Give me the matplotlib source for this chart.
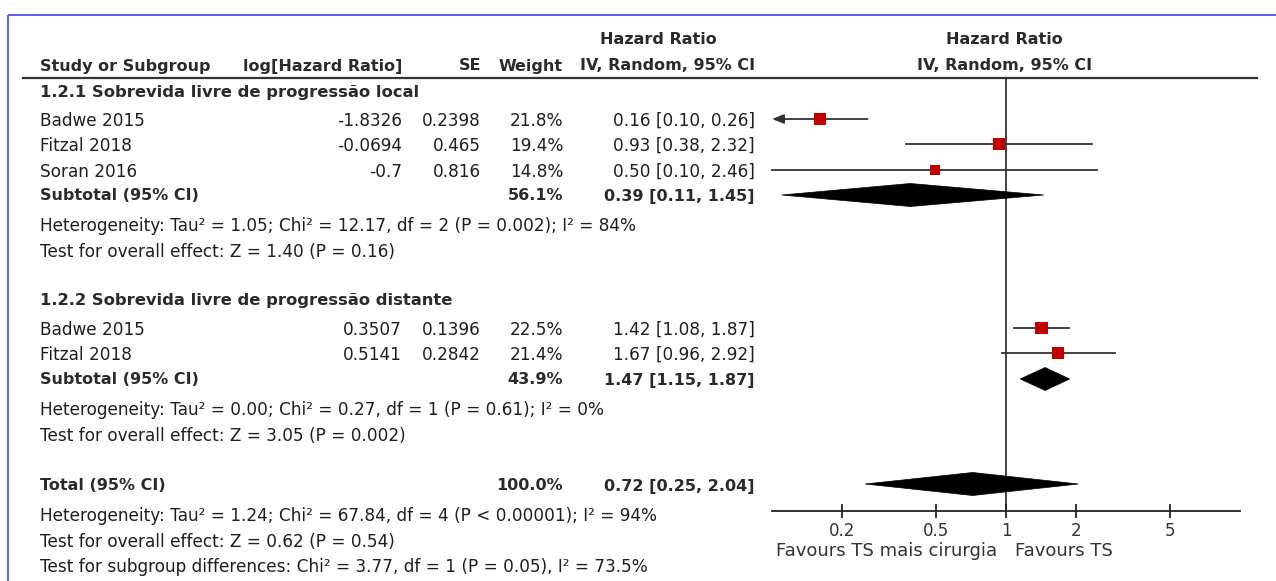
import numpy as np
import matplotlib
matplotlib.use("Agg")
import matplotlib.pyplot as plt
from matplotlib.patches import Polygon

# ---------------- data ----------------
group_titles = ["1.2.1 Sobrevida livre de progressão local",
                "1.2.2 Sobrevida livre de progressão distante"]
studies = [["Badwe 2015", "Fitzal 2018", "Soran 2016"],
           ["Badwe 2015", "Fitzal 2018"]]
log_hr = [[-1.8326, -0.0694, -0.7], [0.3507, 0.5141]]
log_hr_txt = [["-1.8326", "-0.0694", "-0.7"], ["0.3507", "0.5141"]]
se = [[0.2398, 0.465, 0.816], [0.1396, 0.2842]]
se_txt = [["0.2398", "0.465", "0.816"], ["0.1396", "0.2842"]]
weights = [[21.8, 19.4, 14.8], [22.5, 21.4]]
hr = [[0.16, 0.93, 0.50], [1.42, 1.67]]
hr_lo = [[0.10, 0.38, 0.10], [1.08, 0.96]]
hr_hi = [[0.26, 2.32, 2.46], [1.87, 2.92]]

sub_weight = [56.1, 43.9]
sub_hr = [0.39, 1.47]
sub_lo = [0.11, 1.15]
sub_hi = [1.45, 1.87]
sub_het = ["Heterogeneity: Tau² = 1.05; Chi² = 12.17, df = 2 (P = 0.002); I² = 84%",
           "Heterogeneity: Tau² = 0.00; Chi² = 0.27, df = 1 (P = 0.61); I² = 0%"]
sub_test = ["Test for overall effect: Z = 1.40 (P = 0.16)",
            "Test for overall effect: Z = 3.05 (P = 0.002)"]

tot_weight = 100.0
tot_hr = 0.72
tot_lo = 0.25
tot_hi = 2.04
tot_lines = ["Heterogeneity: Tau² = 1.24; Chi² = 67.84, df = 4 (P < 0.00001); I² = 94%",
             "Test for overall effect: Z = 0.62 (P = 0.54)",
             "Test for subgroup differences: Chi² = 3.77, df = 1 (P = 0.05), I² = 73.5%"]

x_ticks = [0.2, 0.5, 1, 2, 5]
x_tick_labels = ["0.2", "0.5", "1", "2", "5"]
fav_left = "Favours TS mais cirurgia"
fav_right = "Favours TS"

# ---------------- layout ----------------
W, H = 1276, 581
fig = plt.figure(figsize=(W / 100, H / 100), dpi=100)
fig.patch.set_facecolor("white")
ax0 = fig.add_axes([0, 0, 1, 1])
ax0.set_xlim(0, W)
ax0.set_ylim(H, 0)
ax0.axis("off")

FX0, FX1 = 772, 1240
axf = fig.add_axes([FX0 / W, 0, (FX1 - FX0) / W, 1])
axf.set_xscale("log")
axf.set_xlim(0.1, 10)
axf.set_ylim(H, 0)
axf.patch.set_alpha(0)
for s in ["top", "left", "right"]:
    axf.spines[s].set_visible(False)
axf.set_yticks([])
AXIS_Y = 511
axf.spines["bottom"].set_position(("data", AXIS_Y))
axf.spines["bottom"].set_linewidth(1.3)
axf.spines["bottom"].set_color("#222222")
axf.set_xticks(x_ticks)
axf.set_xticklabels(x_tick_labels)
axf.xaxis.set_minor_locator(matplotlib.ticker.NullLocator())
axf.tick_params(axis="x", direction="inout", length=10, width=1.3, color="#222222",
                labelsize=12, labelcolor="#333333", pad=3)
for lab in axf.get_xticklabels():
    lab.set_fontfamily("DejaVu Sans")

TXT = "#1e1e1e"
FS = 12.2
FB = 11.5
FAM = "DejaVu Sans"

def t(x, y, s, ha="left", bold=False, size=None, color=None):
    ax0.text(x, y, s, ha=ha, va="center",
             color=color if color else (TXT if not bold else "#2a2a2a"),
             fontsize=size if size else (FB if bold else FS),
             fontweight="bold" if bold else "normal", family=FAM)

# blue frame
ax0.plot([8, W], [15, 15], color="#4f4fff", lw=1.3, solid_capstyle="butt")
ax0.plot([8, 8], [15, H], color="#4f4fff", lw=1.3, solid_capstyle="butt")

# headers
COL_STUDY, COL_LOG, COL_SE, COL_W, COL_CI = 40, 402, 481, 563, 755
t(658, 40, "Hazard Ratio", ha="center", bold=True)
t(1004, 40, "Hazard Ratio", ha="center", bold=True)
t(COL_STUDY, 66, "Study or Subgroup", bold=True)
t(COL_LOG, 66, "log[Hazard Ratio]", ha="right", bold=True)
t(COL_SE, 66, "SE", ha="right", bold=True)
t(COL_W, 66, "Weight", ha="right", bold=True)
t(COL_CI, 66, "IV, Random, 95% CI", ha="right", bold=True)
t(1005, 66, "IV, Random, 95% CI", ha="center", bold=True)
ax0.plot([23, 1257], [78, 78], color="#333333", lw=1.6)

# vertical line of no effect
axf.plot([1, 1], [78, AXIS_Y], color="#222222", lw=1.2, clip_on=False)

def ci_txt(h, l, u):
    return f"{h:.2f} [{l:.2f}, {u:.2f}]"

def diamond(h, l, u, y, half=11.5):
    axf.add_patch(Polygon([(l, y), (h, y - half), (u, y), (h, y + half)],
                          closed=True, facecolor="black", edgecolor="black",
                          lw=0.5, clip_on=False, zorder=3))

group_title_y = [92, 301]
row_y = [[121, 146, 172], [330, 355]]
sub_y = [196, 380]
het_y = [226, 410]
test_y = [252, 436]

for g in range(2):
    t(COL_STUDY, group_title_y[g], group_titles[g], bold=True, size=11.8)
    for i, name in enumerate(studies[g]):
        y = row_y[g][i]
        t(COL_STUDY, y, name)
        t(COL_LOG, y, log_hr_txt[g][i], ha="right")
        t(COL_SE, y, se_txt[g][i], ha="right")
        t(COL_W, y, f"{weights[g][i]:.1f}%", ha="right")
        t(COL_CI, y, ci_txt(hr[g][i], hr_lo[g][i], hr_hi[g][i]), ha="right")
        # forest marks from log estimate and SE
        est = np.exp(log_hr[g][i])
        lo = np.exp(log_hr[g][i] - 1.96 * se[g][i])
        hi = np.exp(log_hr[g][i] + 1.96 * se[g][i])
        ym = y - 2
        xmin = axf.get_xlim()[0]
        if lo < xmin:
            axf.annotate("", xy=(xmin, ym), xytext=(hi, ym),
                         arrowprops=dict(arrowstyle="-|>,head_length=0.7,head_width=0.28",
                                         color="#333333", lw=1.3,
                                         shrinkA=0, shrinkB=0),
                         annotation_clip=False)
        else:
            axf.plot([lo, hi], [ym, ym], color="#333333", lw=1.3, clip_on=False)
        side_px = 1.25 * (4.5 + 0.24 * weights[g][i])
        side_pt = side_px * 0.72
        axf.scatter([est], [ym], marker="s", s=side_pt ** 2, color="#c00000",
                    edgecolors="none", zorder=4, clip_on=False)
    y = sub_y[g]
    t(COL_STUDY, y, "Subtotal (95% CI)", bold=True)
    t(COL_W, y, f"{sub_weight[g]:.1f}%", ha="right", bold=True)
    t(COL_CI, y, ci_txt(sub_hr[g], sub_lo[g], sub_hi[g]), ha="right", bold=True)
    diamond(sub_hr[g], sub_lo[g], sub_hi[g], y - 1)
    t(COL_STUDY, het_y[g], sub_het[g])
    t(COL_STUDY, test_y[g], sub_test[g])

# total
t(COL_STUDY, 486, "Total (95% CI)", bold=True)
t(COL_W, 486, f"{tot_weight:.1f}%", ha="right", bold=True)
t(COL_CI, 486, ci_txt(tot_hr, tot_lo, tot_hi), ha="right", bold=True)
diamond(tot_hr, tot_lo, tot_hi, 484)
for yy, s in zip([516, 542, 567], tot_lines):
    t(COL_STUDY, yy, s)

# favours labels
t(997, 551, fav_left, ha="right", size=13, color="#333333")
t(1015, 551, fav_right, ha="left", size=13, color="#333333")

fig.savefig("out.png", dpi=100, facecolor="white")
